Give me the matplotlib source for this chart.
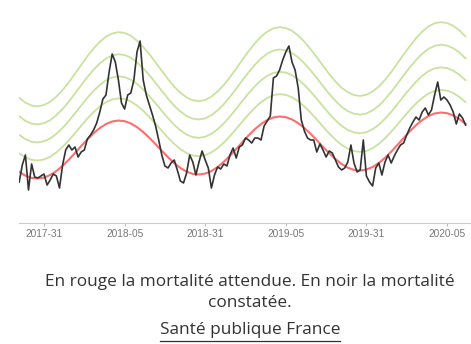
import datetime
import matplotlib
matplotlib.use("Agg")
import matplotlib.pyplot as plt
import numpy as np
from matplotlib.lines import Line2D

# weekly deaths, France, from ISO week 2017-23 onwards
first_week = "2017-23"
deaths_observed = [
    10320, 11000, 11400, 10000, 11040, 10520, 10480, 10560, 10640, 10200,
    10400, 10640, 10560, 10080, 11000, 11600, 11800, 11600, 11720, 11320,
    11520, 11600, 12040, 12200, 12400, 12680, 13120, 13640, 13800, 14720,
    15440, 15120, 14400, 13480, 13240, 13800, 13880, 14400, 15520, 15960,
    14400, 13800, 13400, 13000, 12560, 12000, 11400, 10960, 10880, 11080,
    11200, 10800, 10360, 10280, 10680, 11400, 11120, 10600, 11120, 11560,
    11200, 10880, 10080, 10600, 10920, 10840, 11040, 10960, 11400, 11680,
    11280, 11720, 11800, 12080, 12000, 11880, 12080, 12080, 12000, 12560,
    12760, 12960, 14480, 14560, 14800, 15200, 15520, 15760, 15120, 14800,
    14080, 12800, 12360, 12080, 12000, 12000, 11520, 11840, 11600, 11320,
    11560, 11480, 11200, 10920, 10800, 10880, 11120, 11800, 11080, 10720,
    10800, 12000, 10560, 10320, 10160, 10880, 11080, 10600, 11120, 11400,
    11080, 11360, 11600, 11800, 11880, 12200, 12480, 12720, 12920, 12800,
    13120, 13280, 13000, 13200, 13800, 14320, 13600, 13720, 13600, 13400,
    13120, 12640, 13040, 12880, 12600,
]

# expected deaths and its spread, every second week
deaths_expected = [
    10722, 10574, 10484, 10458, 10497, 10599, 10759, 10967, 11212, 11480,
    11757, 12025, 12270, 12478, 12638, 12740, 12779, 12753, 12663, 12515,
    12319, 12086, 11831, 11567, 11311, 11078, 10882, 10734, 10644, 10619,
    10657, 10759, 10919, 11127, 11372, 11641, 11917, 12185, 12430, 12638,
    12798, 12901, 12939, 12913, 12823, 12675, 12479, 12247, 11991, 11727,
    11471, 11238, 11042, 10894, 10805, 10779, 10817, 10919, 11079, 11287,
    11533, 11801, 12077, 12345, 12590, 12798, 12959, 13061, 13099, 13073,
    12983, 12835, 12640,
]
deaths_sd = [
    371, 365, 362, 361, 363, 366, 372, 379, 387, 397,
    406, 416, 424, 431, 437, 440, 442, 441, 438, 432,
    425, 418, 409, 400, 391, 382, 376, 371, 368, 367,
    368, 372, 378, 384, 393, 402, 412, 421, 429, 437,
    442, 446, 447, 446, 443, 438, 431, 423, 415, 405,
    396, 388, 381, 377, 374, 373, 374, 378, 382, 390,
    398, 408, 418, 426, 435, 442, 448, 451, 452, 451,
    448, 444, 437,
]
z_levels = [2, 4, 6, 8]

tick_weeks = ["2017-31", "2018-05", "2018-31", "2019-05", "2019-31", "2020-05"]

caption = "En rouge la mortalité attendue. En noir la mortalité\nconstatée."
source = "Santé publique France"


def week_offset(label):
    y0, w0 = map(int, first_week.split("-"))
    y, w = map(int, label.split("-"))
    d0 = datetime.date.fromisocalendar(y0, w0, 1)
    d = datetime.date.fromisocalendar(y, w, 1)
    return (d - d0).days / 7


x_obs = np.arange(len(deaths_observed))
x_exp = np.arange(len(deaths_expected)) * 2
base = np.array(deaths_expected, dtype=float)
sd = np.array(deaths_sd, dtype=float)

W, H = 471, 344
fig = plt.figure(figsize=(W / 100, H / 100), dpi=100)
ax = fig.add_axes([19.2 / W, 1 - 223 / H, (W - 19.2) / W, 208 / H])

for k in z_levels:
    ax.plot(x_exp, base + k * sd, color="#c9e29f", lw=1.3, solid_capstyle="round")
ax.plot(x_exp, base, color="#ff6e6e", lw=1.5)
ax.plot(x_obs, deaths_observed, color="#333333", lw=1.2)

ax.set_xlim(0, (W - 19.2) / 3.1)
ax.set_ylim(8680, 17000)
for s in ["top", "right", "left"]:
    ax.spines[s].set_visible(False)
ax.spines["bottom"].set_color("#cccccc")
ax.spines["bottom"].set_linewidth(0.8)
ax.set_yticks([])
ax.set_xticks([week_offset(t) for t in tick_weeks])
ax.set_xticklabels(tick_weeks, fontfamily="Liberation Sans", fontsize=7.3, color="#777777")
ax.tick_params(axis="x", length=2, width=0.8, color="#bbbbbb", pad=2.5)

fig.text(250 / W, 1 - 292.5 / H, caption, ha="center", va="center",
         fontfamily="Open Sans", fontsize=12.4, color="#333333", linespacing=1.35)
src = fig.text(250 / W, 1 - 330 / H, source, ha="center", va="center",
               fontfamily="Open Sans", fontsize=12.4, color="#333333")

# underline for the source link
fig.canvas.draw()
bb = src.get_window_extent(fig.canvas.get_renderer())
uy = (H - 340.7) / H
fig.add_artist(Line2D([bb.x0 / W, bb.x1 / W], [uy, uy], color="#333333", lw=0.9))

fig.savefig("out.png", dpi=100)
